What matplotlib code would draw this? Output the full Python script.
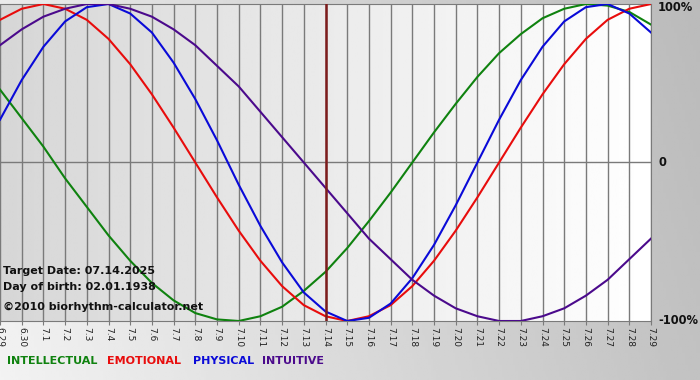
import numpy as np
import matplotlib.pyplot as plt

# day labels 6.29 .. 7.29
days = ["6.29", "6.30"] + ["7.%d" % d for d in range(1, 30)]
target_idx = 15  # 7.14

# values in percent (one per day)
physical = [27, 52, 73, 89, 98, 100, 94, 82, 63, 40, 14, -14, -40, -63, -82, -94,
            -100, -98, -89, -73, -52, -27, 0, 27, 52, 73, 89, 98, 100, 94, 82]
emotional = [90, 97, 100, 97, 90, 78, 62, 43, 22, 0, -22, -43, -62, -78, -90, -97,
             -100, -97, -90, -78, -62, -43, -22, 0, 22, 43, 62, 78, 90, 97, 100]
intellectual = [46, 28, 10, -10, -28, -46, -62, -76, -87, -95, -99, -100, -97, -91, -81, -69,
                -54, -37, -19, 0, 19, 37, 54, 69, 81, 91, 97, 100, 99, 95, 87]
intuitive = [74, 84, 92, 97, 100, 100, 97, 92, 84, 74, 61, 48, 32, 16, 0, -16,
             -32, -48, -61, -74, -84, -92, -97, -100, -100, -97, -92, -84, -74, -61, -48]

series = [
    ("INTELLECTUAL", intellectual, "#0f820f"),
    ("EMOTIONAL", emotional, "#e80c0c"),
    ("PHYSICAL", physical, "#0a0ad8"),
    ("INTUITIVE", intuitive, "#4b0a8c"),
]

fig = plt.figure(figsize=(7, 3.8), dpi=100)

# figure background gradient
bg = fig.add_axes([0, 0, 1, 1], zorder=-10)
gx = np.linspace(0, 1, 256)
gy = np.linspace(0, 1, 64)
GX, GY = np.meshgrid(gx, gy)
shade = 0.95 - 0.19 * GX - 0.03 * GY
bg.imshow(shade, cmap="gray", vmin=0, vmax=1, aspect="auto", extent=[0, 1, 0, 1], origin="lower")
bg.axis("off")

ax = fig.add_axes([0, 1 - 321 / 380, 651 / 700, 317 / 380])
x = np.arange(len(days))
ax.set_xlim(0, len(days) - 1)
ax.set_ylim(-100, 100)

# plot area gradient
grad = np.linspace(0.84, 1.0, 256).reshape(1, -1)
ax.imshow(grad, cmap="gray", vmin=0, vmax=1, aspect="auto",
          extent=[0, len(days) - 1, -100, 100], zorder=0)

for xi in x:
    ax.axvline(xi, color="#7a7a7a", lw=1, zorder=1)
ax.axhline(0, color="#7a7a7a", lw=1, zorder=1)

for name, vals, col in series:
    ax.plot(x, vals, color=col, lw=1.5, zorder=3)

ax.axvline(target_idx, color="#7d1c1c", lw=1.8, zorder=4)

ax.set_xticks(x)
ax.set_xticklabels(days, rotation=270, fontsize=6.5, color="#222222")
ax.tick_params(axis="x", length=3, color="#7a7a7a", pad=1)
ax.set_yticks([])
for s in ax.spines.values():
    s.set_color("#7a7a7a")
ax.spines["left"].set_visible(False)

ytr = ax.get_yaxis_transform()
for v, lab in [(97.5, "100%"), (0, "0"), (-100, "-100%")]:
    ax.text(1.011, v, lab, transform=ytr, ha="left", va="center",
            fontsize=8.3, fontweight="bold", color="#111111", clip_on=False)

info = ["Target Date: 07.14.2025", "Day of birth: 02.01.1938", "\u00a92010 biorhythm-calculator.net"]
for txt, py in zip(info, [271.5, 287.5, 307]):
    fig.text(3 / 700, 1 - py / 380, txt, ha="left", va="center",
             fontsize=8, fontweight="bold", color="#111111", zorder=5)

for (name, vals, col), px in zip(series, [7, 107, 193, 262]):
    fig.text(px / 700, 1 - 361 / 380, name, ha="left", va="center",
             fontsize=8, fontweight="bold", color=col)

fig.savefig("out.png", dpi=100)
